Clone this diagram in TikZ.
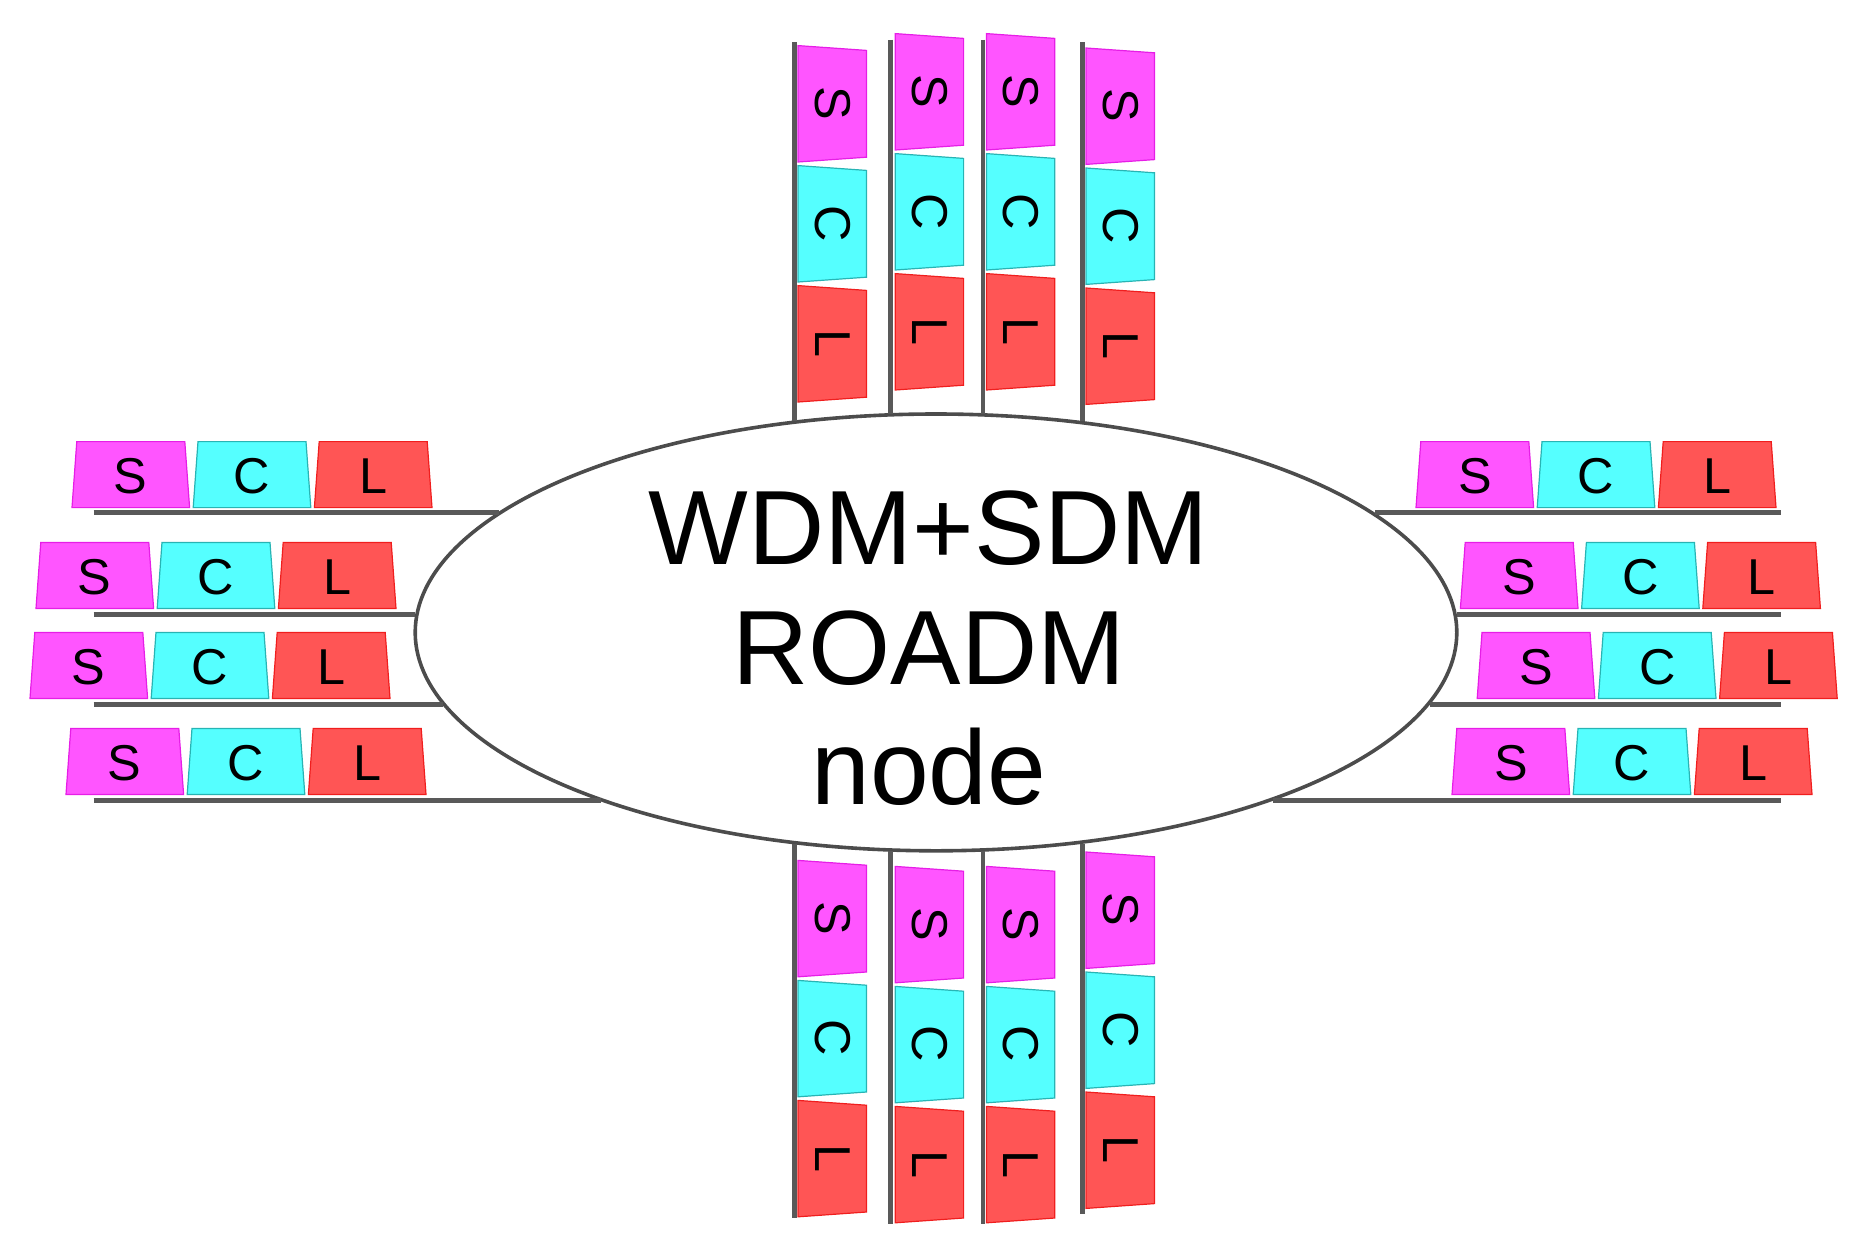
\documentclass[tikz,border=0pt]{standalone}
\usepackage{fontspec}
\setmainfont{Liberation Sans}
\usetikzlibrary{shapes.geometric}
\definecolor{mS}{RGB}{255,85,255}\definecolor{mSd}{RGB}{230,30,230}
\definecolor{mC}{RGB}{85,255,255}\definecolor{mCd}{RGB}{40,180,180}
\definecolor{mL}{RGB}{255,85,85}\definecolor{mLd}{RGB}{240,30,30}
\begin{document}
\begin{tikzpicture}[x=1pt,y=-1pt,
  fib/.style={draw=black!65,line width=3.5pt},
  sS/.style={fill=mS,draw=mSd,line width=1pt},
  sC/.style={fill=mC,draw=mCd,line width=1pt},
  sL/.style={fill=mL,draw=mLd,line width=1pt},
  lab/.style={font=\fontsize{42}{42}\selectfont,inner sep=0pt}]
\useasboundingbox (0,0) rectangle (1560,1044);
\newcommand\blkH[5]{\draw[#4] (#2+4,#3) -- (#2+94,#3) -- (#2+98,#3+55) -- (#2,#3+55) -- cycle;
  \node[lab] (#1) at (#2+49,#3+29) {#5};}
\newcommand\blkV[5]{\draw[#4] (#2,#3) -- (#2+57,#3+4) -- (#2+57,#3+93) -- (#2,#3+97) -- cycle;
  \node[lab,rotate=-90] (#1) at (#2+29,#3+48) {#5};}
% ellipse
\node[draw=black!70,line width=3pt,ellipse,minimum width=868pt,minimum height=364pt,inner sep=0pt] (E) at (780,527) {};
\node[align=center,font=\fontsize{88}{100}\selectfont] (T) at (774,540) {WDM+SDM\\ROADM\\node};
% horizontal fibres
\foreach \n/\y/\l/\r in {1/427/416/1146, 2/512/346/1214, 3/587/369/1192, 4/667/501/1061}{
  \coordinate (lf\n) at (78,\y); \coordinate (le\n) at (\l,\y);
  \coordinate (rf\n) at (1484,\y); \coordinate (re\n) at (\r,\y);
  \draw[fib] (lf\n) -- (le\n); \draw[fib] (re\n) -- (rf\n);}
% vertical fibres
\foreach \n/\x/\t/\e/\b/\f in {1/662/35/351/703/1015, 2/742/33/345/709/1020, 3/819/33/345/709/1020, 4/902/35/351/703/1012}{
  \coordinate (tf\n) at (\x,\t); \coordinate (te\n) at (\x,\e);
  \coordinate (bf\n) at (\x,\f); \coordinate (be\n) at (\x,\b);
  \draw[fib] (tf\n) -- (te\n); \draw[fib] (be\n) -- (bf\n);}
% left and right blocks
\foreach \n/\x/\y in {l1/60/368, l2/30/452, l3/25/527, l4/55/607, r1/1180/368, r2/1217/452, r3/1231/527, r4/1210/607}{
  \pgfmathsetmacro\xc{\x+101}\pgfmathsetmacro\xl{\x+202}
  \blkH{\n S}{\x}{\y}{sS}{S}
  \blkH{\n C}{\xc}{\y}{sC}{C}
  \blkH{\n L}{\xl}{\y}{sL}{L}}
% top and bottom blocks
\foreach \n/\x/\y in {t1/665/38, t2/746/28, t3/822/28, t4/905/40, b1/665/717, b2/746/722, b3/822/722, b4/905/710}{
  \pgfmathsetmacro\yc{\y+100}\pgfmathsetmacro\yl{\y+200}
  \blkV{\n S}{\x}{\y}{sS}{S}
  \blkV{\n C}{\x}{\yc}{sC}{C}
  \blkV{\n L}{\x}{\yl}{sL}{L}}
\end{tikzpicture}
\end{document}
